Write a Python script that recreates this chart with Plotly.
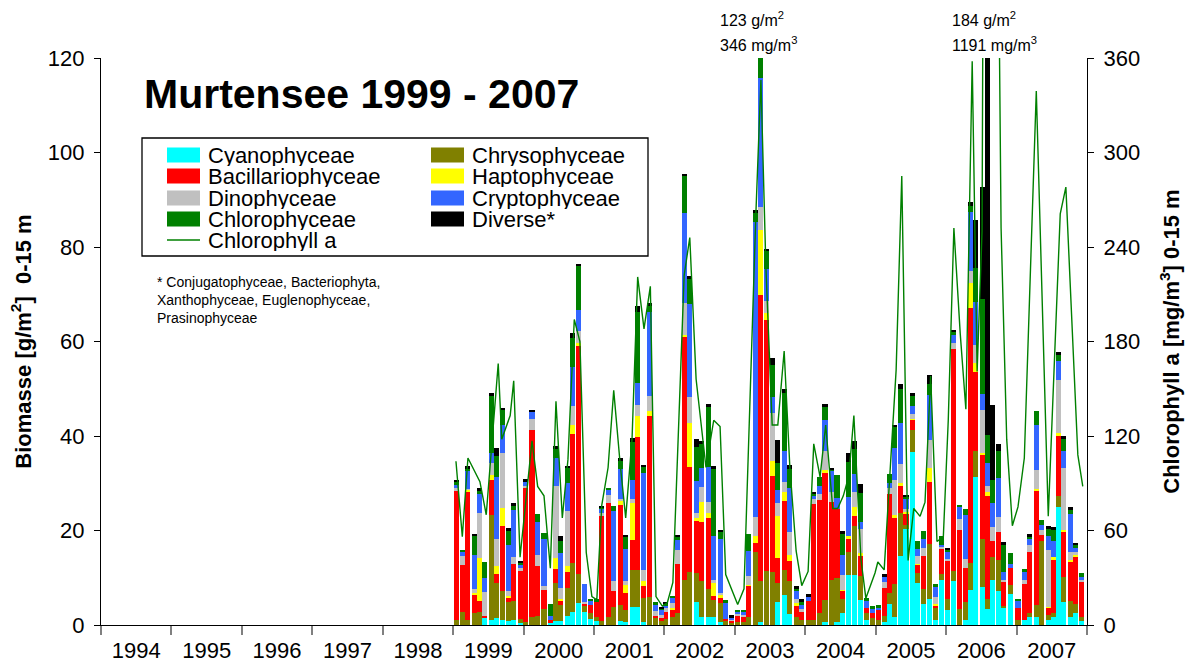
import plotly.graph_objects as go

# ---------------- data ----------------
# sampling dates as decimal years
dates = [1999.05, 1999.13, 1999.21, 1999.30, 1999.37, 1999.45, 1999.54, 1999.62, 1999.70, 1999.78, 1999.86, 1999.95,
         2000.03, 2000.12, 2000.20, 2000.29, 2000.38, 2000.46, 2000.53, 2000.62, 2000.69, 2000.78, 2000.87, 2000.95,
         2001.04, 2001.11, 2001.20, 2001.28, 2001.37, 2001.45, 2001.54, 2001.62, 2001.70, 2001.79, 2001.87, 2001.96,
         2002.02, 2002.11, 2002.19, 2002.28, 2002.36, 2002.45, 2002.53, 2002.62, 2002.70, 2002.79, 2002.87, 2002.95,
         2003.04, 2003.12, 2003.19, 2003.29, 2003.36, 2003.45, 2003.53, 2003.61, 2003.70, 2003.78, 2003.87, 2003.95,
         2004.04, 2004.11, 2004.20, 2004.28, 2004.37, 2004.45, 2004.53, 2004.61, 2004.70, 2004.78, 2004.87, 2004.95,
         2005.04, 2005.12, 2005.19, 2005.27, 2005.35, 2005.43, 2005.52, 2005.59, 2005.68, 2005.76, 2005.85, 2005.93,
         2006.02, 2006.10, 2006.19, 2006.27, 2006.35, 2006.42, 2006.52, 2006.59, 2006.66, 2006.74, 2006.82, 2006.91,
         2007.02, 2007.11, 2007.19, 2007.28, 2007.36, 2007.45, 2007.52, 2007.59, 2007.67, 2007.76, 2007.84, 2007.92]

cyanophyceae = [0, 0, 0, 0, 0, 1.4, 1.1, 1.4, 1.1, 0.85, 1.1, 0.35,
                0, 0, 0, 0, 0.4, 0.85, 0.85, 1.9, 2.8, 4.7, 2.8, 1.2,
                0.85, 0, 0, 0, 0.85, 0.7, 3.9, 3.9, 0.7, 0, 0, 0,
                0, 0, 0, 0, 0, 4.9, 1.8, 1.6, 1.8, 0.7, 0, 0,
                0, 0, 0, 0, 0.7, 0, 0, 4.9, 6.4, 2.4, 0, 0,
                0, 0, 0, 0.6, 0, 0.6, 2.6, 10.5, 10.5, 5.3, 1.0, 0,
                0, 0.6, 4.5, 1.8, 14.7, 20.3, 36.7, 8.9, 4.5, 5.6, 1.0, 9.6,
                3.2, 9.3, 0, 1.0, 7.5, 31.4, 8.1, 3.4, 9.6, 7.3, 3.5, 6.5,
                0, 1.0, 1.6, 1.8, 0, 1.0, 1.8, 25.0, 4.9, 1.6, 2.6, 0.8]

chrysophyceae = [1.1, 2.8, 1.1, 2.5, 2.8, 0, 22.2, 7.4, 6.1, 4.1, 3.9, 0.85,
                 0.7, 1.8, 1.9, 3.3, 0, 8.0, 3.4, 5.9, 10.4, 6.2, 1.4, 1.3,
                 0.9, 0.85, 1.8, 3.9, 3.4, 2.5, 7.8, 7.8, 5.1, 5.9, 1.4, 0.9,
                 1.2, 1.6, 2.6, 9.5, 11.3, 6.1, 7.6, 6.1, 3.4, 3.9, 0.9, 0.5,
                 0.7, 0.7, 1.6, 15.5, 8.7, 11.4, 11.3, 4.0, 5.3, 6.9, 1.6, 1.0,
                 1.0, 1.0, 2.6, 4.6, 9.6, 9.4, 3.0, 4.9, 10.5, 5.0, 1.6, 1.4,
                 1.0, 1.4, 2.2, 6.9, 9.0, 0.8, 4.5, 2.2, 3.2, 11.5, 2.6, 1.1,
                 2.4, 2.2, 3.4, 3.8, 5.6, 5.4, 10.0, 2.0, 4.8, 6.5, 0.6, 2.0,
                 1.1, 0, 1.0, 2.4, 17.7, 1.2, 0.8, 2.2, 5.2, 3.4, 1.8, 1.0]

bacillariophyceae = [27.2, 9.9, 27.2, 3.9, 2.3, 0.5, 7.4, 2.0, 13.8, 0.85, 8.0, 10.4,
                     28.2, 39.4, 10.6, 4.1, 0.6, 3.0, 0.9, 3.4, 27.2, 48.1, 0.35, 1.8,
                     3.2, 22.2, 24.0, 3.2, 21.2, 3.5, 6.2, 28.1, 2.4, 38.4, 0.5, 0.5,
                     1.6, 1.7, 10.3, 51.4, 22.2, 11.0, 12.5, 15.0, 1.0, 1.1, 0.3, 0.4,
                     1.4, 1.1, 6.7, 1.9, 60.4, 53.1, 20.3, 5.3, 14.6, 4.2, 2.6, 1.8,
                     4.1, 24.6, 23.8, 26.9, 16.5, 14.5, 1.6, 3.0, 2.1, 4.5, 1.0, 1.2,
                     2.2, 5.8, 21.0, 14.0, 5.7, 2.6, 2.2, 1.6, 6.9, 13.2, 0.5, 5.3,
                     8.0, 46.9, 16.8, 7.2, 53.9, 16.8, 17.9, 21.8, 3.4, 5.8, 4.9, 3.6,
                     2.4, 7.6, 12.8, 24.1, 1.4, 1.4, 11.2, 12.8, 9.6, 8.4, 10.1, 7.2]

haptophyceae = [0, 0, 0.35, 0.35, 9.1, 0, 1.1, 1.7, 3.8, 0.35, 0, 0,
                0, 0, 0, 0, 0, 2.3, 0.35, 1.3, 1.9, 0.6, 0, 0,
                0, 0, 0, 0, 0.7, 1.8, 8.0, 4.5, 1.1, 0.9, 0, 0,
                0, 0.3, 0, 0.5, 9.2, 0.6, 4.2, 1.0, 2.7, 0.6, 0, 0,
                0, 0, 0.2, 1.4, 13.9, 1.6, 3.2, 8.9, 1.8, 1.4, 0.4, 0,
                0, 0, 0, 0.6, 0, 0, 0.3, 0.4, 1.9, 0.4, 0, 0,
                0, 0, 0, 0.5, 0.6, 0.4, 0.3, 0.3, 0, 3.0, 0.3, 0,
                0, 0, 0, 0, 5.3, 1.8, 0.4, 1.0, 0, 0, 0, 0,
                0, 0, 0, 0.5, 0, 0.3, 0.6, 0.6, 0.4, 0.4, 0.3, 0]

dinophyceae = [0.6, 1.8, 0.2, 0.9, 9.6, 5.1, 2.5, 5.8, 11.6, 1.1, 1.4, 0.4,
               0.6, 2.3, 2.3, 0.85, 0, 15.3, 2.3, 11.7, 4.0, 2.7, 0.35, 0,
               0, 0.7, 1.8, 2.3, 0.6, 0.85, 0.85, 2.3, 2.3, 3.3, 1.1, 0.7,
               0.7, 1.0, 3.0, 6.7, 5.5, 1.0, 3.2, 2.3, 0.7, 0.5, 0, 0.3,
               0.35, 0.35, 1.8, 4.1, 4.7, 2.4, 10.0, 2.7, 2.2, 4.8, 0.8, 0.5,
               0, 1.0, 1.4, 4.1, 2.0, 0, 3.0, 0, 3.2, 5.2, 0, 0,
               0, 1.2, 1.4, 7.5, 4.0, 0.4, 1.0, 1.6, 1.7, 5.8, 1.6, 0.6,
               0.4, 1.2, 2.2, 1.9, 2.6, 3.8, 9.0, 1.2, 3.0, 3.2, 0.5, 0,
               0, 1.0, 1.6, 4.1, 1.1, 12.0, 0, 11.3, 13.2, 1.6, 0.6, 0.6]

cryptophyceae = [0.8, 1.0, 3.9, 7.2, 3.9, 3.0, 2.1, 13.1, 6.0, 9.6, 9.9, 0.85,
                 0.9, 1.7, 7.1, 9.9, 0.9, 5.9, 7.4, 5.9, 8.2, 4.4, 3.7, 0.85,
                 0, 0.9, 0.9, 14.8, 6.3, 6.7, 4.0, 4.7, 20.5, 17.8, 1.2, 1.1,
                 0.7, 1.1, 2.0, 19.2, 19.8, 6.8, 3.9, 7.4, 9.3, 11.4, 3.4, 0.35,
                 0.35, 0.7, 5.4, 62.4, 27.3, 6.9, 3.4, 2.8, 6.5, 9.3, 1.8, 1.0,
                 0.8, 0.8, 1.6, 6.5, 4.6, 2.4, 4.4, 8.2, 3.7, 1.4, 1.4, 0.8,
                 0.6, 1.2, 1.0, 6.8, 8.8, 2.2, 1.6, 1.4, 2.0, 9.6, 2.1, 0.4,
                 1.5, 1.8, 2.5, 9.3, 12.5, 9.2, 3.5, 4.8, 5.0, 8.4, 1.8, 0.8,
                 1.6, 1.8, 1.2, 9.4, 1.0, 3.0, 3.4, 4.0, 3.6, 8.1, 1.0, 0.6]

chlorophyceae = [0.6, 0.4, 0.35, 4.0, 0.7, 3.4, 12.0, 4.4, 3.0, 3.0, 0.85, 0.3,
                 0, 0, 1.6, 1.3, 2.5, 2.0, 2.6, 3.2, 6.3, 9.3, 0, 0.4,
                 0.5, 0.2, 0.6, 1.0, 1.6, 2.5, 7.9, 15.0, 1.3, 1.4, 0.7, 0.35,
                 0.4, 0.5, 0.85, 7.8, 5.2, 7.3, 5.3, 12.8, 14.3, 1.6, 0.7, 0,
                 0.35, 0.35, 3.6, 1.8, 7.3, 3.7, 6.9, 5.7, 12.4, 4.0, 0.6, 0.5,
                 0, 0.4, 2.0, 3.0, 0.2, 4.8, 4.4, 7.5, 5.3, 6.2, 0.8, 0.6,
                 0.4, 0, 1.8, 4.4, 7.2, 0.5, 2.2, 1.8, 1.5, 2.4, 0.5, 1.8,
                 0.5, 0.8, 0.6, 1.4, 1.2, 7.2, 20.2, 6.0, 4.9, 5.7, 5.7, 2.4,
                 0.4, 0.4, 0.6, 3.0, 1.0, 1.4, 2.4, 1.2, 2.4, 0.8, 0.5, 0.8]

diverse = [0.4, 0, 0.5, 0.4, 0.6, 0, 0.6, 1.6, 0.6, 0.6, 0.6, 0.4,
           0.4, 0.4, 0, 0, 0, 0.5, 1.1, 0.35, 1.0, 0.4, 0, 0,
           0, 0.3, 0, 0, 0.6, 0.5, 0.9, 1.3, 0.5, 0.35, 0, 0.35,
           0.3, 0, 0.35, 0.4, 0.6, 1.6, 0.35, 0.6, 0.35, 0.35, 0, 0.6,
           0, 0, 0, 0.7, 0, 0.5, 1.4, 4.9, 0.8, 0.8, 0.4, 0.6,
           0.6, 0.4, 0, 0.4, 0.4, 0, 0.6, 1.8, 1.8, 1.8, 0, 0,
           0, 0.6, 0, 0.5, 1.0, 0.3, 0.6, 0, 0, 1.9, 0, 0,
           0.4, 0.3, 0, 0, 1.0, 10.1, 23.7, 143.8, 15.8, 1.4, 0.6, 0,
           0, 0, 0.4, 0, 0, 0.6, 0.6, 0.6, 0.8, 0.6, 0.5, 0]

# chlorophyll a (mg/m3), right axis
chl_dates = [1999.04, 1999.13, 1999.21, 1999.38, 1999.47, 1999.64, 1999.69, 1999.81, 1999.86, 1999.95,
             2000.12, 2000.20, 2000.29, 2000.38, 2000.46, 2000.55, 2000.63, 2000.72, 2000.80, 2000.89, 2000.97,
             2001.04, 2001.11, 2001.20, 2001.28, 2001.37, 2001.45, 2001.54, 2001.62, 2001.71, 2001.80, 2001.88, 2001.97,
             2002.04, 2002.12, 2002.28, 2002.36, 2002.45, 2002.59, 2002.70, 2002.79, 2002.87,
             2003.04, 2003.13, 2003.30, 2003.37, 2003.44, 2003.53, 2003.61, 2003.70, 2003.78, 2003.87, 2003.95,
             2004.04, 2004.12, 2004.21, 2004.29, 2004.39, 2004.46, 2004.54, 2004.62, 2004.69, 2004.79, 2004.86, 2004.99,
             2005.03, 2005.12, 2005.29, 2005.37, 2005.46, 2005.54, 2005.63, 2005.70, 2005.78, 2005.87, 2005.96,
             2006.03, 2006.11, 2006.20, 2006.28, 2006.37, 2006.44, 2006.51, 2006.59, 2006.78, 2006.86, 2006.94,
             2007.02, 2007.11, 2007.28, 2007.45, 2007.62, 2007.70, 2007.87, 2007.94]
chlorophyll_a = [104, 56, 106, 91, 70, 166, 118, 133, 155, 43,
                 117, 88, 82, 36, 142, 68, 105, 194, 180, 46, 18,
                 16, 76, 100, 149, 103, 68, 118, 221, 188, 215, 18, 12,
                 14, 27, 222, 246, 156, 100, 130, 126, 32,
                 13, 23, 263, 346, 228, 127, 127, 174, 101, 47, 25,
                 34, 115, 94, 127, 74, 74, 82, 95, 133, 42, 17, 33,
                 40, 35, 162, 285, 41, 74, 69, 78, 158, 53, 56,
                 130, 252, 185, 137, 358, 161, 250, 1191, 252, 118, 63,
                 75, 106, 339, 69, 261, 278, 108, 88]

years = list(range(1994, 2008))

series = [("Cyanophyceae", cyanophyceae, "#00FFFF"),
          ("Chrysophyceae", chrysophyceae, "#808000"),
          ("Bacillariophyceae", bacillariophyceae, "#FF0000"),
          ("Haptophyceae", haptophyceae, "#FFFF00"),
          ("Dinophyceae", dinophyceae, "#C0C0C0"),
          ("Cryptophyceae", cryptophyceae, "#3366FF"),
          ("Chlorophyceae", chlorophyceae, "#008000"),
          ("Diverse*", diverse, "#000000")]

# ---------------- figure ----------------
W, H = 1186, 669
PL, PR, PT, PB = 101, 1087, 58, 625   # plot-area pixel box


def px(x):
    return (x - PL) / (PR - PL)


def py(y):
    return (PB - y) / (PB - PT)


fig = go.Figure()
for name, vals, col in series:
    fig.add_trace(go.Bar(x=dates, y=vals, name=name, width=0.072,
                         marker=dict(color=col, line=dict(width=0)), showlegend=False))
fig.add_trace(go.Scatter(x=chl_dates, y=chlorophyll_a, name="Chlorophyll a", yaxis="y2",
                         mode="lines", line=dict(color="#008000", width=1.4), showlegend=False))

FONT = "Liberation Sans, Arial, sans-serif"
fig.update_layout(
    width=W, height=H,
    margin=dict(l=PL, r=W - PR, t=PT, b=H - PB, autoexpand=False),
    barmode="stack", bargap=0,
    plot_bgcolor="white", paper_bgcolor="white",
    font=dict(family=FONT, color="black"),
    xaxis=dict(range=[1994, 2008], tickmode="array", automargin=False,
               tickvals=[y + 0.5 for y in years], ticktext=[str(y) for y in years],
               ticks="", ticklabelstandoff=5, tickfont=dict(size=22),
               showline=True, linecolor="black", linewidth=1.3,
               showgrid=False, zeroline=False,
               minor=dict(tickmode="linear", tick0=1994, dtick=1, ticks="outside",
                          ticklen=9, tickwidth=1.5, tickcolor="#808080", showgrid=False)),
    yaxis=dict(range=[0, 120], tickmode="linear", tick0=0, dtick=20, automargin=False,
               ticks="outside", ticklen=6, tickcolor="black", ticklabelstandoff=5,
               tickfont=dict(size=22), showline=True, linecolor="black", linewidth=1.3,
               showgrid=False, zeroline=False,
               title=dict(text="<b>Biomasse [g/m<sup>2</sup>]  0-15 m</b>",
                          font=dict(size=22), standoff=10)),
    yaxis2=dict(range=[0, 360], tickmode="linear", tick0=0, dtick=60, overlaying="y", side="right",
                automargin=False,
                ticks="outside", ticklen=6, tickcolor="black", ticklabelstandoff=5,
                tickfont=dict(size=22), showline=True, linecolor="black", linewidth=1.3,
                showgrid=False, zeroline=False,
                title=dict(text="<b>Chlorophyll a [mg/m<sup>3</sup>] 0-15 m</b>",
                           font=dict(size=22), standoff=24)),
)

annotations = []
shapes = []

# title
annotations.append(dict(text="<b>Murtensee 1999 - 2007</b>", xref="paper", yref="paper",
                        x=px(361), y=py(94), xanchor="center", yanchor="middle",
                        showarrow=False, font=dict(size=41)))

# legend box
shapes.append(dict(type="rect", xref="paper", yref="paper", x0=px(142), x1=px(648),
                   y0=py(256), y1=py(138), line=dict(color="black", width=1.3),
                   fillcolor="white", layer="below"))
left_col = [series[0], series[2], series[4], series[6]]
right_col = [series[1], series[3], series[5], series[7]]
rows = [155, 176, 198, 219, 240]
for i, (name, _, col) in enumerate(left_col):
    shapes.append(dict(type="rect", xref="paper", yref="paper", x0=px(167), x1=px(200),
                       y0=py(rows[i] + 7.5), y1=py(rows[i] - 7.5), line=dict(width=0), fillcolor=col))
    annotations.append(dict(text=name, xref="paper", yref="paper", x=px(206), y=py(rows[i]),
                            xanchor="left", yanchor="middle", height=21, valign="middle",
                            showarrow=False, font=dict(size=22)))
for i, (name, _, col) in enumerate(right_col):
    shapes.append(dict(type="rect", xref="paper", yref="paper", x0=px(431), x1=px(464),
                       y0=py(rows[i] + 7.5), y1=py(rows[i] - 7.5), line=dict(width=0), fillcolor=col))
    annotations.append(dict(text=name, xref="paper", yref="paper", x=px(470), y=py(rows[i]),
                            xanchor="left", yanchor="middle", height=21, valign="middle",
                            showarrow=False, font=dict(size=22)))
shapes.append(dict(type="line", xref="paper", yref="paper", x0=px(167), x1=px(200),
                   y0=py(rows[4]), y1=py(rows[4]), line=dict(color="#008000", width=1.4)))
annotations.append(dict(text="Chlorophyll a", xref="paper", yref="paper", x=px(206), y=py(rows[4]),
                        xanchor="left", yanchor="middle", height=21, valign="middle",
                        showarrow=False, font=dict(size=22)))

# footnote
annotations.append(dict(text="* Conjugatophyceae, Bacteriophyta,<br>Xanthophyceae, Euglenophyceae,<br>Prasinophyceae",
                        xref="paper", yref="paper", x=px(155), y=py(272), xanchor="left", yanchor="top",
                        align="left", showarrow=False, font=dict(size=14)))

# off-scale labels
for xpx, t1, t2 in [(718, "123 g/m<sup>2</sup>", "346 mg/m<sup>3</sup>"),
                    (950, "184 g/m<sup>2</sup>", "1191 mg/m<sup>3</sup>")]:
    annotations.append(dict(text=t1, xref="paper", yref="paper", x=px(xpx), y=py(19),
                            xanchor="left", yanchor="middle", showarrow=False, font=dict(size=16)))
    annotations.append(dict(text=t2, xref="paper", yref="paper", x=px(xpx), y=py(44),
                            xanchor="left", yanchor="middle", showarrow=False, font=dict(size=16)))

fig.update_layout(annotations=annotations, shapes=shapes)
fig.write_html("out.html", config={"displayModeBar": False},
               post_script="document.body.style.margin='0';document.body.style.overflow='hidden';")
